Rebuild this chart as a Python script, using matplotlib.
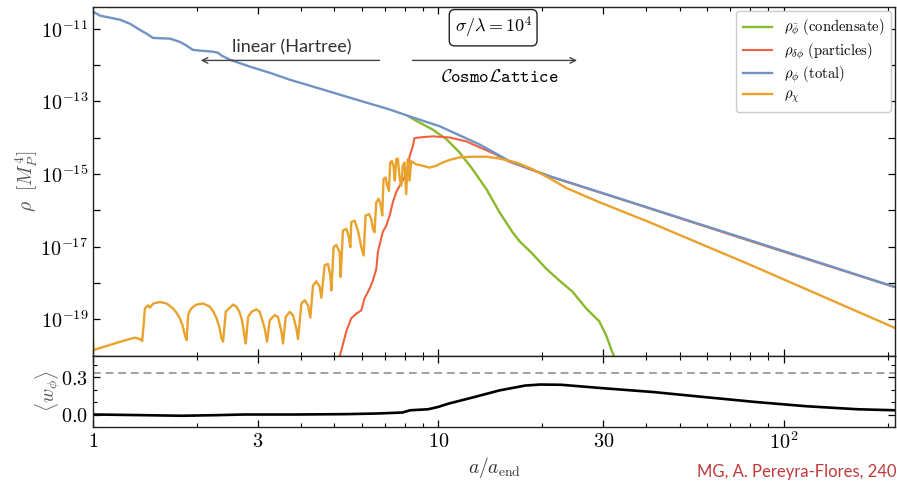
"""Energy densities and equation of state after inflation (linear + lattice)"""

import numpy as np
import matplotlib.pyplot as plt
from matplotlib.ticker import FixedLocator, NullFormatter, MultipleLocator

plt.rcParams['mathtext.fontset'] = 'cm'
plt.rcParams['font.family'] = 'serif'
plt.rcParams['font.serif'] = ['DejaVu Serif']

# ---- data (a/a_end, log10 of rho in M_P^4) ----
a_total = [1.00, 1.05, 1.197, 1.279, 1.367, 1.432, 1.49, 1.562, 1.669, 1.784, 1.857,
           1.945, 2.039, 2.223, 2.30, 2.36, 2.488, 2.843, 3.248, 3.71, 4.62, 5.79,
           7.22, 8.25, 10.07, 13.13, 16.04, 20.9, 29.2, 40.7, 79.2, 209]
rho_total_exp = [-10.53, -10.64, -10.75, -10.86, -11.03, -11.14, -11.25, -11.26, -11.27,
                 -11.36, -11.45, -11.58, -11.60, -11.63, -11.66, -11.74, -11.85, -12.04,
                 -12.21, -12.40, -12.67, -12.95, -13.22, -13.41, -13.68, -14.18, -14.64,
                 -15.05, -15.49, -15.93, -16.81, -18.10]

a_cond = [8.19, 8.81, 9.61, 10.55, 11.5, 12.54, 13.76, 15.0, 16.36, 17.14, 18.7, 20.5,
          22.4, 24.4, 26.8, 29.2, 30.6, 31.8, 32.9]
rho_cond_exp = [-13.41, -13.58, -13.77, -14.04, -14.40, -14.86, -15.41, -16.04, -16.59,
                -16.84, -17.19, -17.60, -17.93, -18.23, -18.70, -19.05, -19.44, -19.88,
                -20.2]

a_part = [5.16, 5.41, 5.59, 5.78, 5.98, 6.11, 6.32, 6.46, 6.61, 6.68, 6.90, 7.06, 7.22,
          7.38, 7.55, 7.71, 7.98, 8.15, 8.25, 8.43, 8.52, 8.81, 9.61, 10.76, 12.05,
          13.13, 14.52, 16.04, 20.9, 29.2, 40.7, 79.2, 209]
rho_part_exp = [-20.07, -19.33, -18.97, -18.84, -18.75, -18.42, -18.15, -17.93, -17.60,
                -17.14, -16.59, -16.42, -16.15, -15.77, -15.49, -15.33, -15.08, -14.86,
                -14.51, -14.23, -14.01, -13.99, -13.96, -13.99, -14.10, -14.26, -14.44,
                -14.66, -15.06, -15.50, -15.94, -16.83, -18.11]

a_chi = [1.00, 1.003, 1.027, 1.12, 1.221, 1.323, 1.367, 1.388, 1.404, 1.413, 1.444,
         1.461, 1.494, 1.562, 1.633, 1.707, 1.74, 1.784, 1.815, 1.845, 1.866, 1.886,
         1.907, 1.95, 1.994, 2.084, 2.179, 2.23, 2.278, 2.32, 2.355, 2.380, 2.423,
         2.489, 2.544, 2.602, 2.65, 2.691, 2.72, 2.750, 2.768, 2.811, 2.875, 2.972,
         3.039, 3.141, 3.190, 3.248, 3.357, 3.432, 3.511, 3.548, 3.613, 3.710, 3.793,
         3.879, 3.921, 4.011, 4.100, 4.191, 4.258, 4.332, 4.431, 4.530, 4.581, 4.683,
         4.787, 4.864, 4.897, 4.972, 5.062, 5.175, 5.210, 5.290, 5.411, 5.506, 5.557,
         5.594, 5.718, 5.846, 5.979, 6.071, 6.152, 6.289, 6.390, 6.458, 6.531, 6.605,
         6.708, 6.798, 6.875, 6.934, 7.027, 7.089, 7.185, 7.252, 7.328, 7.412, 7.477,
         7.546, 7.627, 7.714, 7.801, 7.884, 7.973, 8.064, 8.151, 8.244, 8.338, 8.619,
         9.006, 9.419, 9.849, 10.29, 10.76, 11.50, 12.54, 13.76, 15.01, 16.81, 18.69,
         20.94, 23.45, 29.19, 40.73, 79.2, 209.4]
rho_chi_exp = [-19.58, -19.85, -19.81, -19.70, -19.59, -19.50, -19.54, -19.59, -19.05,
               -18.70, -18.61, -18.67, -18.56, -18.52, -18.56, -18.70, -18.80, -18.97,
               -19.15, -19.43, -19.57, -18.88, -18.75, -18.65, -18.59, -18.56, -18.65,
               -18.78, -18.97, -19.20, -19.52, -19.61, -18.78, -18.68, -18.59, -18.65,
               -18.78, -18.97, -19.20, -19.52, -19.66, -18.93, -18.79, -18.72, -18.79,
               -19.25, -19.61, -19.02, -18.88, -18.93, -19.34, -19.66, -18.93, -18.79,
               -18.88, -19.25, -19.54, -18.56, -18.47, -18.61, -18.95, -18.07, -17.95,
               -18.10, -18.40, -17.51, -17.47, -17.79, -18.20, -17.01, -16.95, -17.15,
               -17.83, -16.55, -16.51, -16.73, -17.01, -16.32, -16.28, -16.55, -17.01,
               -17.24, -16.14, -16.10, -16.23, -16.51, -16.60, -15.78, -15.68, -15.82,
               -16.14, -15.14, -15.09, -15.27, -15.46, -14.68, -14.64, -14.77, -15.18,
               -14.59, -14.57, -15.09, -15.32, -14.77, -14.68, -15.55, -14.59, -15.18,
               -14.64, -14.73, -14.77, -14.82, -14.77, -14.68, -14.61, -14.54, -14.52,
               -14.52, -14.57, -14.68, -14.86, -15.11, -15.38, -15.77, -16.32, -17.48,
               -19.23]

# equation of state <w_phi>
a_w = [1.0, 1.013, 1.376, 1.808, 2.298, 2.732, 3.836, 5.386, 6.63, 7.87, 8.28, 9.33,
       9.99, 10.69, 12.71, 15.01, 17.84, 19.72, 22.68, 25.90, 29.79, 41.83, 58.71,
       82.99, 116.5, 163.6, 209]
w_phi = [0.0, 0.0, -0.005, -0.01, -0.005, 0.0, 0.0, 0.003, 0.008, 0.016, 0.034, 0.042,
         0.061, 0.087, 0.14, 0.193, 0.232, 0.24, 0.238, 0.225, 0.211, 0.18, 0.14, 0.10,
         0.066, 0.042, 0.034]

c_cond = '#8cb82e'
c_part = '#f0623f'
c_total = '#7093c4'
c_chi = '#e9a22c'

fig, (ax, axw) = plt.subplots(2, 1, sharex=True, figsize=(8.97, 4.86), dpi=100,
                              gridspec_kw={'height_ratios': [4.9, 1]})
fig.subplots_adjust(left=0.1037, right=0.998, top=0.9856, bottom=0.1214, hspace=0)

ax.plot(a_cond, 10.0 ** np.array(rho_cond_exp), color=c_cond, lw=1.7,
        label=r'$\rho_{\bar{\phi}}\ \mathrm{(condensate)}$')
ax.plot(a_part, 10.0 ** np.array(rho_part_exp), color=c_part, lw=1.5,
        label=r'$\rho_{\delta\phi}\ \mathrm{(particles)}$')
ax.plot(a_total, 10.0 ** np.array(rho_total_exp), color=c_total, lw=1.7,
        label=r'$\rho_{\phi}\ \mathrm{(total)}$')
ax.plot(a_chi, 10.0 ** np.array(rho_chi_exp), color=c_chi, lw=1.7,
        label=r'$\rho_{\chi}$')

ax.set_xscale('log')
ax.set_yscale('log')
ax.set_xlim(1, 210)
ax.set_ylim(1e-20, 10 ** -10.4)

yt = [10.0 ** k for k in range(-20, -10)]
ax.yaxis.set_major_locator(FixedLocator(yt))
ax.yaxis.set_minor_locator(FixedLocator([]))
ax.set_yticklabels([r'$10^{%d}$' % k if k % 2 else '' for k in range(-20, -10)])
ax.set_ylabel(r'$\rho\ \ [M_P^4]$', fontsize=14, color='#555555', labelpad=0)

leg = ax.legend(loc='upper right', fontsize=10.5, frameon=True, fancybox=True,
                edgecolor='#cccccc', framealpha=1, handlelength=2.0,
                borderaxespad=0.3, labelspacing=0.2, borderpad=0.45)

# annotations
arr = dict(arrowstyle='->', color='#444444', lw=1.0, shrinkA=0, shrinkB=0)
ax.annotate('', xy=(2.05, 10 ** -11.87), xytext=(6.75, 10 ** -11.87), arrowprops=arr)
ax.annotate('', xy=(25.2, 10 ** -11.87), xytext=(8.41, 10 ** -11.87), arrowprops=arr)
ax.text(3.77, 10 ** -11.66, 'linear (Hartree)', family='Lato', fontsize=13,
        ha='center', va='baseline', color='#333333')
ax.text(14.4, 10 ** -10.97, r'$\sigma/\lambda = 10^4$', fontsize=13, ha='center',
        va='center', bbox=dict(boxstyle='round,pad=0.3', fc='white', ec='#222222', lw=1))
ax.text(15.1, 10 ** -12.34, r'$\mathcal{C}\mathtt{osmo}\mathcal{L}\mathtt{attice}$',
        fontsize=13, ha='center', va='center')

# lower panel
axw.plot(a_w, w_phi, color='black', lw=1.9)
axw.axhline(1 / 3, color='#a0a0a0', lw=1.4, ls='--', dashes=(4, 2.5))
axw.set_ylim(-0.1, 0.47)
axw.set_yticks([0.0, 0.3])
axw.set_yticklabels([r'$0.0$', r'$0.3$'])
axw.yaxis.set_minor_locator(MultipleLocator(0.1))
axw.set_ylabel(r'$\langle w_\phi \rangle$', fontsize=14, color='#555555', labelpad=-1)

axw.xaxis.set_major_locator(FixedLocator([1, 3, 10, 30, 100]))
axw.xaxis.set_minor_locator(FixedLocator([2, 4, 5, 6, 7, 8, 9, 20, 40, 50, 60, 70, 80,
                                          90, 200]))
axw.xaxis.set_minor_formatter(NullFormatter())
axw.set_xticklabels([r'$1$', r'$3$', r'$10$', r'$30$', r'$10^2$'])
axw.set_xlabel(r'$a/a_{\rm end}$', fontsize=14, color='#333333', labelpad=1)

for a in (ax, axw):
    a.tick_params(which='both', direction='in', top=True, right=True, labelsize=14.5)
    a.tick_params(which='major', length=5, width=0.9)
    a.tick_params(which='minor', length=3, width=0.8)
    for s in a.spines.values():
        s.set_linewidth(1.0)
        s.set_color('#222222')

fig.text(0.999, 0.012, 'MG, A. Pereyra-Flores, 240', family='Lato', fontsize=12,
         color='#c0393b', ha='right', va='bottom')

plt.savefig('out.png', dpi=100)
